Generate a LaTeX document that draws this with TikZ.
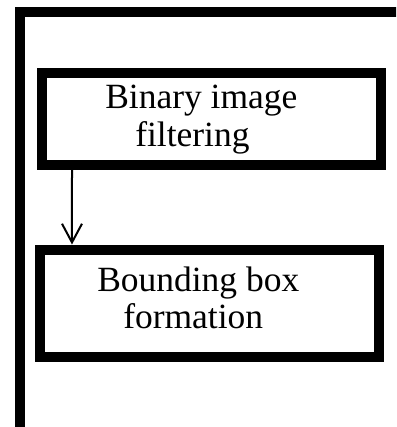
\documentclass[tikz,border=0pt]{standalone}
\usepackage{fontspec}
\setmainfont{Liberation Serif}
\usetikzlibrary{arrows.meta,calc}
\begin{document}
\begin{tikzpicture}[x=0.75pt,y=-0.75pt,
  frame/.style={draw=black,line width=7.5pt},
  boxnode/.style={draw=black,line width=7.5pt,inner sep=0pt,outer sep=3.75pt},
  lbl/.style={anchor=base west,inner sep=0pt,font=\fontsize{26.6}{28.5}\selectfont},
  conn/.style={draw=black,line width=1.5pt,-{Straight Barb[length=14pt,width=15pt,line width=1.5pt]}}]
\useasboundingbox (0,0) rectangle (396,427);
\clip (0,0) rectangle (396,427);
\fill[white] (0,0) rectangle (396,427);
\draw[frame] (20,12.5) rectangle (420,450);
\node[boxnode,minimum width=254.25pt,minimum height=69pt] (b1) at (211.5,119) {};
\node[boxnode,minimum width=253.9pt,minimum height=80.6pt] (b2) at (209.25,303.25) {};
\node[lbl] (t1a) at (105,109) {Binary image};
\node[lbl] (t1b) at (135,147) {filtering};
\node[lbl] (t2a) at (97,291) {Bounding box};
\node[lbl] (t2b) at (123,328) {formation};
\draw[conn] ($(b1.south west)+(35,0)$) -- ($(b2.north west)+(37,0)$);
\end{tikzpicture}
\end{document}
